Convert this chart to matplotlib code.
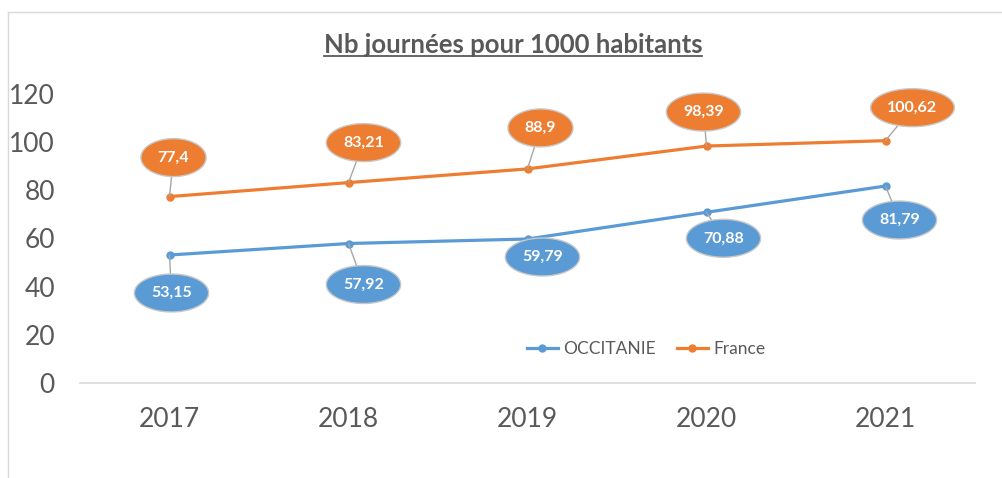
import numpy as np
import matplotlib.pyplot as plt
from matplotlib.path import Path
from matplotlib.lines import Line2D

plt.rcParams['font.family'] = ['Lato', 'DejaVu Sans']

# data
years = ['2017', '2018', '2019', '2020', '2021']
occitanie = [53.15, 57.92, 59.79, 70.88, 81.79]
france = [77.4, 83.21, 88.9, 98.39, 100.62]

# label offsets in pixels (dx, dy up)
off_occ = [(2, -38), (15, -41), (15, -18), (17, -26), (14, -34)]
off_fra = [(4, 39), (15, 40), (13, 41), (-3, 34), (27, 33)]

blue = '#5B9BD5'
orange = '#ED7D31'
grey = '#595959'


def ellipse_box(x0, y0, width, height, mutation_size):
    # ellipse around the text box, flatter than matplotlib's own
    cx = x0 + width / 2
    cy = y0 + height / 2
    rx = width / 2 + 1.05 * mutation_size
    ry = height / 2 + 0.75 * mutation_size
    t = np.linspace(0, 2 * np.pi, 80)
    verts = np.column_stack([cx + rx * np.cos(t), cy + ry * np.sin(t)])
    return Path(verts, closed=True)


fig = plt.figure(figsize=(10.03, 4.78), dpi=100)
ax = fig.add_axes([80 / 1003, 95 / 478, 895 / 1003, 289 / 478])

x = np.arange(len(years))
ax.plot(x, occitanie, color=blue, lw=2.3, marker='o', ms=5, label='OCCITANIE', zorder=3)
ax.plot(x, france, color=orange, lw=2.3, marker='o', ms=5, label='France', zorder=3)

for vals, offs, col in [(occitanie, off_occ, blue), (france, off_fra, orange)]:
    for xi, v, (dx, dy) in zip(x, vals, offs):
        ax.annotate(f"{v:g}".replace('.', ','), xy=(xi, v),
                    xytext=(dx * 0.72, dy * 0.72), textcoords='offset points',
                    ha='center', va='center', color='white', fontsize=11.5,
                    fontweight='bold', zorder=5,
                    bbox=dict(boxstyle=ellipse_box, fc=col, ec='#C8C8C8', lw=1),
                    arrowprops=dict(arrowstyle='-', color='#A6A6A6', lw=1,
                                    shrinkA=0, shrinkB=0))

ax.set_xlim(-0.5, len(years) - 0.5)
ax.set_ylim(0, 120)
ax.set_yticks(np.arange(0, 121, 20))
ax.set_xticks(x)
ax.set_xticklabels(years)
ax.tick_params(axis='both', length=0, labelsize=19, colors=grey)
ax.tick_params(axis='y', pad=18)
ax.tick_params(axis='x', pad=17)
for s in ['top', 'right', 'left']:
    ax.spines[s].set_visible(False)
ax.spines['bottom'].set_color('#D9D9D9')
ax.spines['bottom'].set_linewidth(1.2)

ax.legend(loc='center', bbox_to_anchor=(646 / 1003, 1 - 349 / 478),
          bbox_transform=fig.transFigure, ncol=2, frameon=False, fontsize=12.5,
          handlelength=1.8, handletextpad=0.3, columnspacing=1.2,
          labelcolor=grey)

title = fig.text(513 / 1003, 1 - 45 / 478, 'Nb journées pour 1000 habitants',
                 ha='center', va='center', fontsize=18.5, fontweight='bold', color=grey)

# underline the title
fig.canvas.draw()
bb = title.get_window_extent().transformed(fig.transFigure.inverted())
uy = 1 - 56 / 478
fig.add_artist(Line2D([bb.x0, bb.x1], [uy, uy], transform=fig.transFigure,
                      color=grey, lw=1.3))

# chart frame
fig.add_artist(Line2D([8 / 1003, 8 / 1003], [0, 1 - 12 / 478],
                      transform=fig.transFigure, color='#D9D9D9', lw=1))
fig.add_artist(Line2D([8 / 1003, 1], [1 - 12 / 478, 1 - 12 / 478],
                      transform=fig.transFigure, color='#D9D9D9', lw=1))

fig.savefig('out.png', dpi=100)
